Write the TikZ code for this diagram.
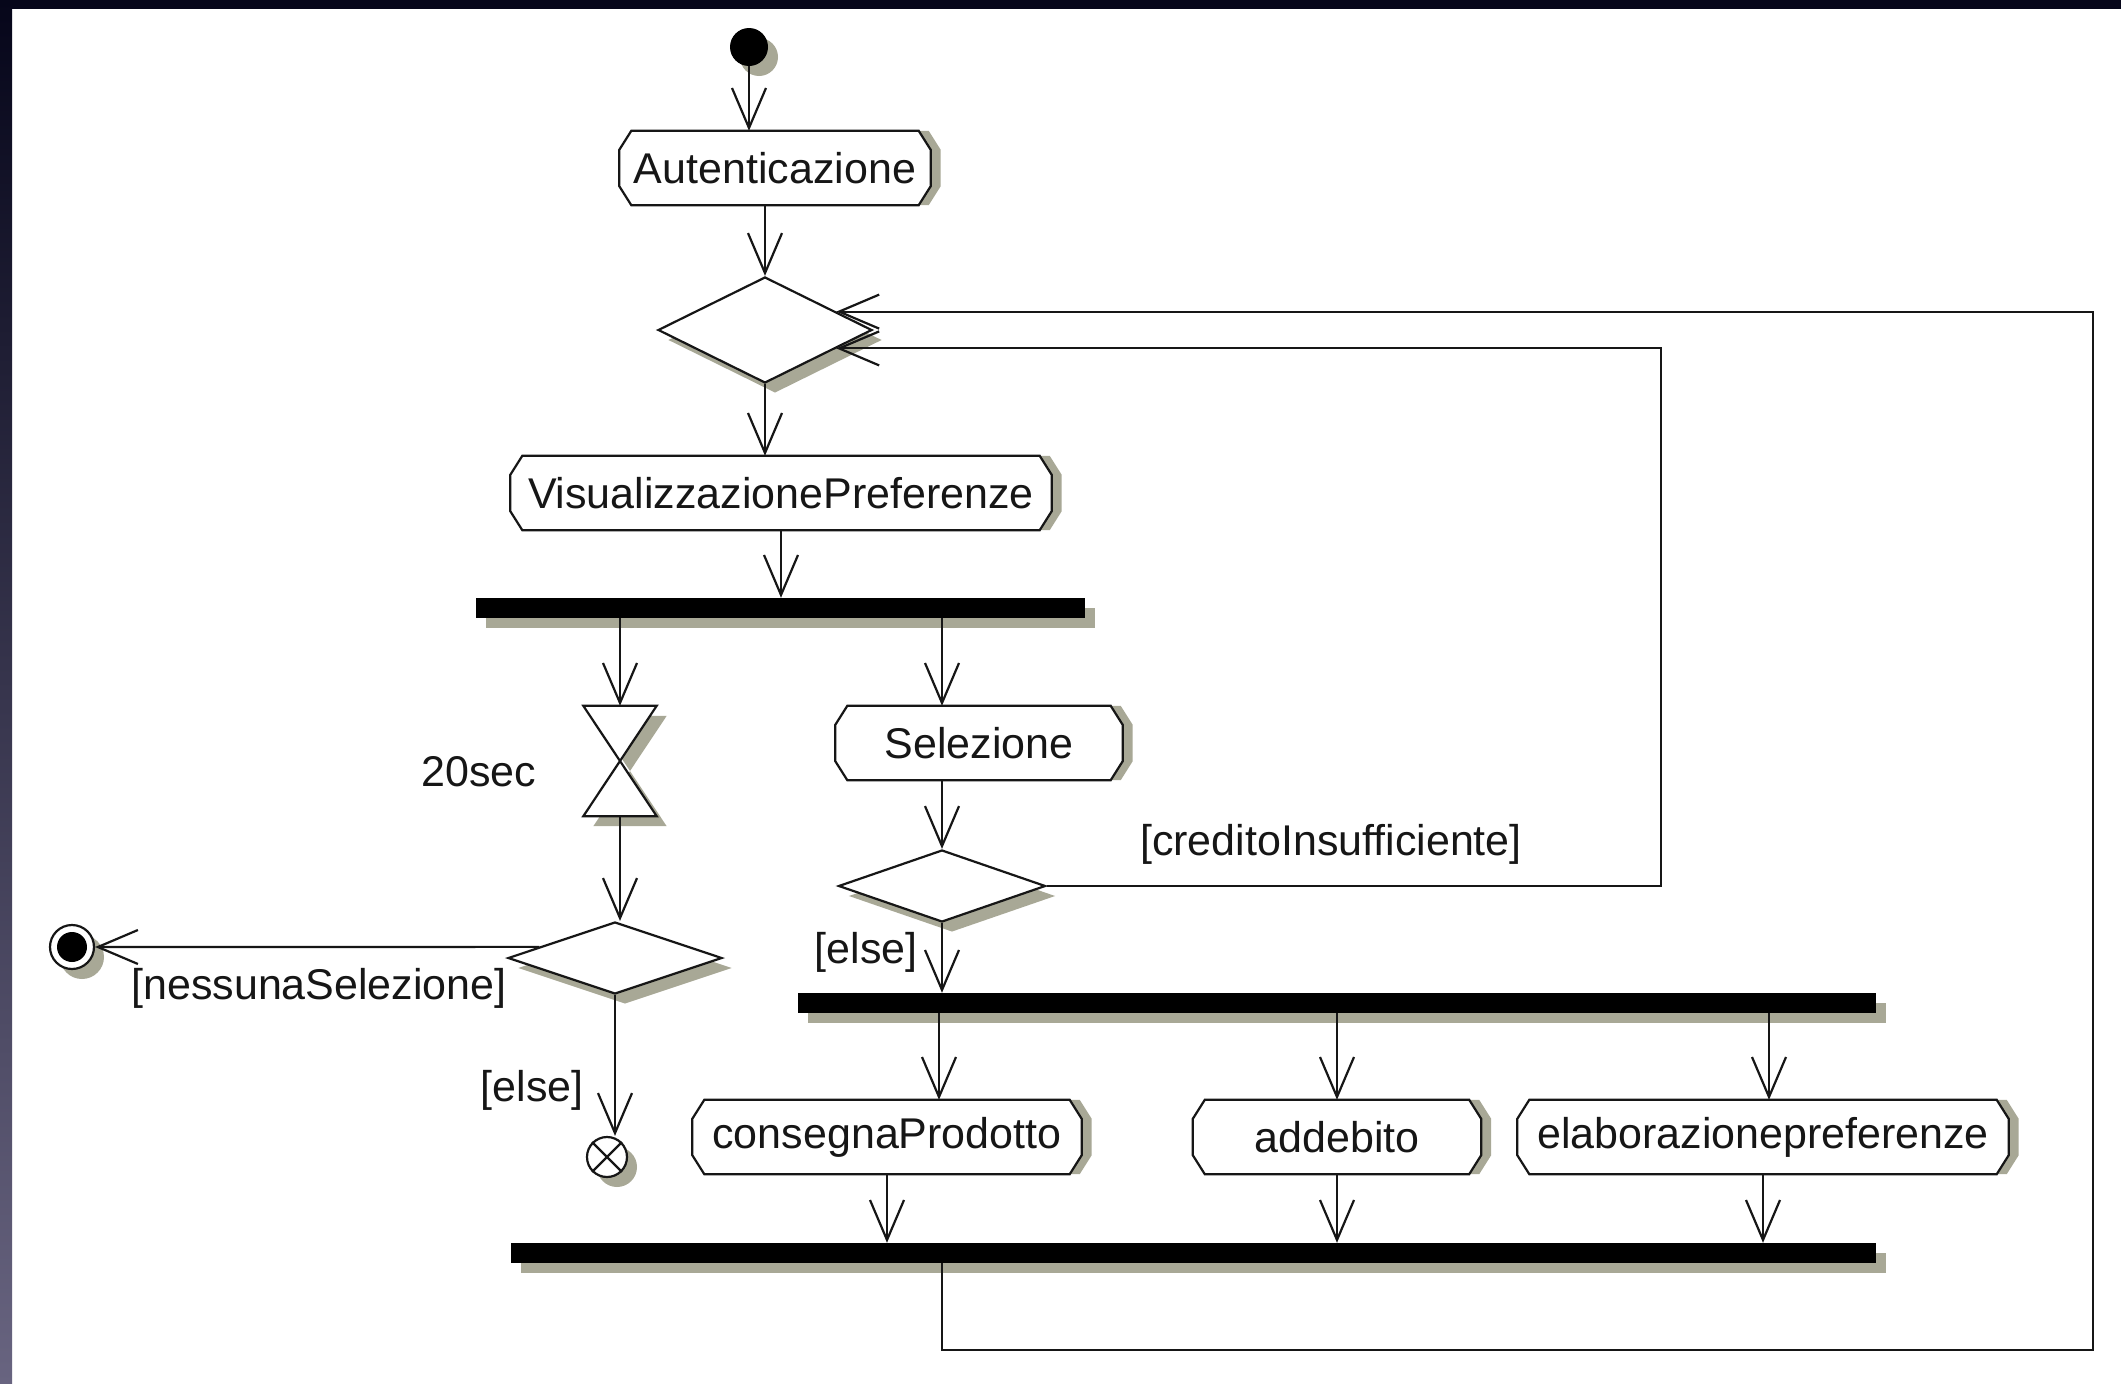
\documentclass[tikz,border=0pt]{standalone}
\usepackage{fontspec}
\setmainfont{Liberation Sans}
\usetikzlibrary{shapes.geometric,shadows,arrows.meta,calc}
\definecolor{shadowc}{RGB}{168,168,150}
\definecolor{inkc}{RGB}{22,22,22}
\definecolor{bandtop}{RGB}{6,6,26}
\definecolor{bandlow}{RGB}{104,100,128}
\pgfdeclarelayer{back}
\pgfsetlayers{back,main}
% outline of an action node: flat top and bottom, chamfered ends
\newcommand{\actionpath}[2]{%
  ([shift={(#2+12,0)}]#1.north west) -- ([shift={(#2-12,0)}]#1.north east)
  -- ([shift={(#2,19)}]#1.north east) -- ([shift={(#2,-19)}]#1.south east)
  -- ([shift={(#2-12,0)}]#1.south east) -- ([shift={(#2+12,0)}]#1.south west)
  -- ([shift={(#2,-19)}]#1.south west) -- ([shift={(#2,19)}]#1.north west) -- cycle}
\begin{document}
\begin{tikzpicture}[x=1pt,y=-1pt,
  font=\fontsize{43}{48}\selectfont,
  every node/.style={text=inkc},
  ln/.style={line width=2.2pt, draw=inkc},
  arr/.style={ln,-{Straight Barb[length=40pt,width=34pt,line width=2.2pt]}},
  sh/.style={drop shadow={shadow xshift=10pt,shadow yshift=-10pt,fill=shadowc,opacity=1}},
  action/.style={rectangle, inner sep=0pt, minimum height=74pt},
  bar/.style={rectangle, fill=black, inner sep=0pt, minimum height=20pt, sh},
  decision/.style={diamond, draw=inkc, line width=2.2pt, fill=white, sh, inner sep=0pt},
  guard/.style={inner sep=0pt}
]
% frame and page
\useasboundingbox (0,0) rectangle (2121,1384);
\begin{pgfonlayer}{back}
  \fill[white] (0,0) rectangle (2121,1384);
  \fill[bandtop] (0,0) rectangle (2121,9);
  \shade[top color=bandtop, bottom color=bandlow] (0,0) rectangle (12,1384);
\end{pgfonlayer}

% nodes
\node[circle, fill=black, minimum size=38pt, inner sep=0pt, sh] (init) at (749,47) {};
\node[action, minimum width=311pt] (aut) at (775,168) {Autenticazione};
\node[decision, minimum width=214pt, minimum height=106pt] (d1) at (765,330) {};
\node[action, minimum width=541pt] (vp) at (781,493) {VisualizzazionePreferenze};
\node[bar, minimum width=609pt] (j1) at (780,608) {};

% timer (hourglass)
\node[minimum width=73pt, minimum height=110pt, inner sep=0pt] (tm) at (620,761) {};
\fill[shadowc] ([shift={(10,10)}]tm.north west) -- ([shift={(10,10)}]tm.north east)
  -- ([shift={(10,10)}]tm.south west) -- ([shift={(10,10)}]tm.south east) -- cycle;
\filldraw[ln, fill=white] (tm.north west) -- (tm.north east) -- (tm.south west)
  -- (tm.south east) -- cycle;
\node[guard] (t20) at (479,772) {20sec};

\node[action, minimum width=287pt] (sel) at (979,743) {Selezione};
\node[decision, minimum width=207pt, minimum height=72pt] (d2) at (942,886) {};
\node[decision, minimum width=214pt, minimum height=72pt] (d3) at (615,958) {};

% final nodes
\node[circle, draw=inkc, line width=2.2pt, fill=white, minimum size=44pt, inner sep=0pt, sh] (fin) at (72,947) {};
\fill[black] (fin.center) circle[radius=15pt];
\node[circle, draw=inkc, line width=2.2pt, fill=white, minimum size=40pt, inner sep=0pt, sh] (ff) at (607,1157) {};
\draw[ln] (ff.north west) -- (ff.south east) (ff.north east) -- (ff.south west);

\node[bar, minimum width=1078pt] (j2) at (1337,1003) {};
\node[action, minimum width=389pt] (cp) at (887,1137) {consegnaProdotto};
\node[action, minimum width=288pt] (ad) at (1337,1137) {addebito};
\node[action, minimum width=491pt] (ep) at (1763,1137) {elaborazionepreferenze};
\node[bar, minimum width=1365pt] (j3) at (1193,1253) {};

% action outlines with their shadows, behind the labels
\begin{pgfonlayer}{back}
  \foreach \n in {aut,vp,sel,cp,ad,ep} {
    \fill[shadowc] \actionpath{\n}{10};
  }
  \foreach \n in {aut,vp,sel,cp,ad,ep} {
    \filldraw[ln, fill=white, line join=miter] \actionpath{\n}{0};
  }
\end{pgfonlayer}

% guard labels
\node[guard] (gnone) at (319,988) {[nessunaSelezione]};
\node[guard] (gelse1) at (532,1090) {[else]};
\node[guard] (gcred) at (1331,844) {[creditoInsufficiente]};
\node[guard] (gelse2) at (866,952) {[else]};

% loop targets and corners
\coordinate (d1up) at ($(d1.east)!0.34!(d1.north)$);
\coordinate (d1lo) at ($(d1.east)!0.34!(d1.south)$);
\coordinate (cR) at (1661,600);
\coordinate (oR) at (2093,1350);

% flows
\draw[arr] (init) -- (init |- aut.north);
\draw[arr] (d1.north |- aut.south) -- (d1.north);
\draw[arr] (d1.south) -- (d1.south |- vp.north);
\draw[arr] (vp.south) -- (vp.south |- j1.north);
\draw[arr] (j1.south -| tm.north) -- (tm.north);
\draw[arr] (tm.south) -- (tm.south |- d3.north);
\draw[arr] (j1.south -| d2.north) -- (d2.north |- sel.north);
\draw[arr] (d2.north |- sel.south) -- (d2.north);
\draw[arr] (d2.south) -- (d2.south |- j2.north);
\draw[arr] (d2.east) -| (cR) |- (d1lo);
\draw[arr] ($(d3.west)!0.3!(d3.north)$) -- (fin.east);
\draw[arr] (d3.south) -- (d3.south |- ff.north);
\draw[arr] ([xshift=52pt]cp.north |- j2.south) -- ([xshift=52pt]cp.north);
\draw[arr] (ad.north |- j2.south) -- (ad.north);
\draw[arr] ([xshift=6pt]ep.north |- j2.south) -- ([xshift=6pt]ep.north);
\draw[arr] (cp.south) -- (cp.south |- j3.north);
\draw[arr] (ad.south) -- (ad.south |- j3.north);
\draw[arr] (ep.south) -- (ep.south |- j3.north);
\draw[arr] (j3.south -| d2.south) |- (oR) |- (d1up);
\end{tikzpicture}
\end{document}
